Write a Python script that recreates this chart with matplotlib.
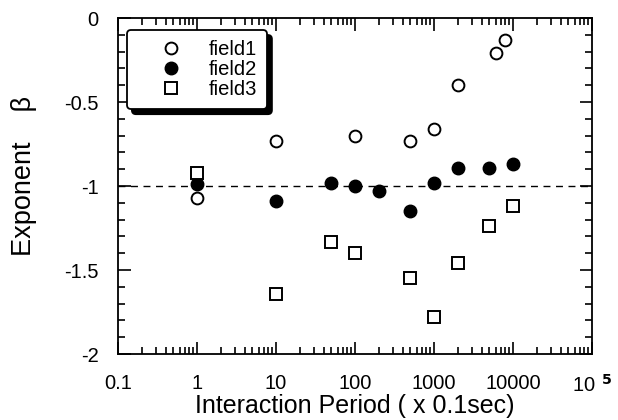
import matplotlib
matplotlib.use("Agg")
import matplotlib.pyplot as plt
from matplotlib.ticker import FixedLocator, LogLocator, MultipleLocator, NullFormatter

plt.rcParams['font.family'] = ['Liberation Sans', 'DejaVu Sans']

# data
x1 = [1, 10, 100, 500, 1000, 2000, 6000, 8000]
y1 = [-1.07, -0.73, -0.70, -0.73, -0.66, -0.40, -0.21, -0.13]

x2 = [1, 10, 50, 100, 200, 500, 1000, 2000, 5000, 10000]
y2 = [-0.99, -1.09, -0.98, -1.0, -1.03, -1.15, -0.98, -0.89, -0.89, -0.87]

x3 = [1, 10, 50, 100, 500, 1000, 2000, 5000, 10000]
y3 = [-0.92, -1.64, -1.33, -1.40, -1.55, -1.78, -1.46, -1.24, -1.12]

xticks = [0.1, 1, 10, 100, 1000, 10000, 100000]
xticklabels = ['0.1', '1', '10', '100', '1000', '10000', r'10$^{\,\,\,\mathbf{5}}$']
yticks = [0, -0.5, -1, -1.5, -2]
yticklabels = ['0', '-0.5', '-1', '-1.5', '-2']

fig = plt.figure(figsize=(6.18, 4.2), dpi=100)
ax = fig.add_axes([0.191, 0.157, 0.767, 0.800])

ax.axhline(-1, color='black', linestyle=(0, (5, 4)), linewidth=1.0, zorder=1)

ax.plot(x1, y1, 'o', markersize=8.5, markerfacecolor='white', markeredgecolor='black',
        markeredgewidth=1.4, label='field1', zorder=3)
ax.plot(x2, y2, 'o', markersize=9, markerfacecolor='black', markeredgecolor='black',
        label='field2', zorder=3)
ax.plot(x3, y3, 's', markersize=8.5, markerfacecolor='white', markeredgecolor='black',
        markeredgewidth=1.4, label='field3', zorder=3)

ax.set_xscale('log')
ax.set_xlim(0.1, 1e5)
ax.set_ylim(-2, 0)
ax.xaxis.set_major_locator(FixedLocator(xticks))
ax.set_xticklabels(xticklabels)
ax.xaxis.set_minor_locator(LogLocator(base=10, subs=range(2, 10), numticks=20))
ax.xaxis.set_minor_formatter(NullFormatter())
ax.set_yticks(yticks)
ax.set_yticklabels(yticklabels)
ax.yaxis.set_minor_locator(MultipleLocator(0.1))

ax.tick_params(which='both', direction='in', top=True, right=True, labelsize=14.5, width=1.2)
ax.tick_params(axis='x', which='major', length=9, pad=14)
ax.tick_params(axis='y', which='major', length=9, pad=14)
ax.tick_params(which='minor', length=5)
for s in ax.spines.values():
    s.set_linewidth(1.3)

ax.set_xlabel('Interaction Period ( x 0.1sec)', fontsize=18, labelpad=-1)
ax.set_ylabel('Exponent    β', fontsize=19.5)
ax.yaxis.set_label_coords(-0.172, 0.53)

leg = ax.legend(loc='upper left', bbox_to_anchor=(0.019, 0.964), fontsize=14.5,
                frameon=True, fancybox=True,
                shadow={'color': 'black', 'alpha': 1.0, 'ox': 3.5, 'oy': -3.5},
                edgecolor='black', framealpha=1, handletextpad=0.15,
                borderpad=0.5, labelspacing=0.05, handlelength=3.4, borderaxespad=0)
leg.get_frame().set_linewidth(1.3)

fig.savefig('out.png', dpi=100)
